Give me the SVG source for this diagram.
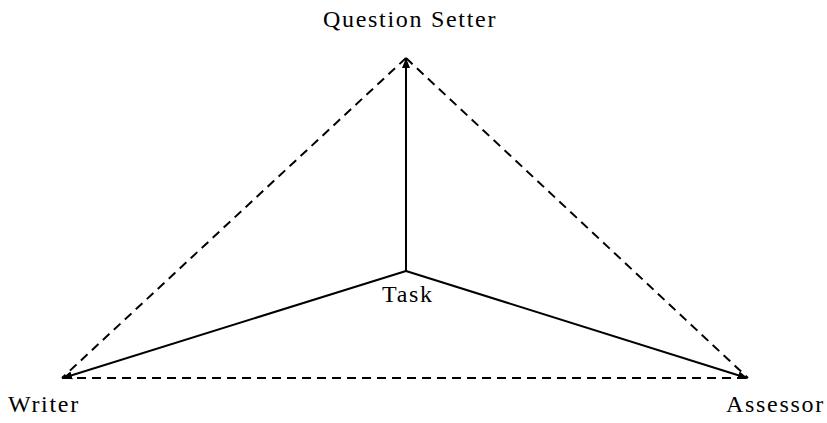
<svg xmlns="http://www.w3.org/2000/svg" width="827" height="423" viewBox="0 0 827 423">
<style>
text{font-family:"Liberation Serif","Times New Roman",serif;font-size:24px;letter-spacing:1.7px;fill:#000}
.solid{stroke:#000;stroke-width:2;fill:none}
.dash{stroke:#000;stroke-width:2;fill:none;stroke-dasharray:9,6}
</style>
<defs>
<marker id="ah" viewBox="0 0 10 10" refX="9" refY="5" markerWidth="5" markerHeight="5" orient="auto" markerUnits="strokeWidth">
<path d="M0,1 L10,5 L0,9 Z" fill="#000"/>
</marker>
</defs>
<rect width="827" height="423" fill="#fff"/>
<g id="connectors">
<line class="dash" x1="406" y1="58" x2="62" y2="378"/>
<line class="dash" x1="406" y1="58" x2="748" y2="378"/>
<line class="dash" x1="62" y1="378" x2="748" y2="378"/>
<line class="solid" x1="406" y1="271" x2="406" y2="59" marker-end="url(#ah)"/>
<line class="solid" x1="406" y1="271" x2="63" y2="378" marker-end="url(#ah)"/>
<line class="solid" x1="406" y1="271" x2="747" y2="378" marker-end="url(#ah)"/>
</g>
<g id="question-setter"><text x="323" y="27">Question Setter</text></g>
<g id="task"><text x="382" y="302">Task</text></g>
<g id="writer"><text x="8" y="412">Writer</text></g>
<g id="assessor"><text x="726" y="412">Assessor</text></g>
</svg>
